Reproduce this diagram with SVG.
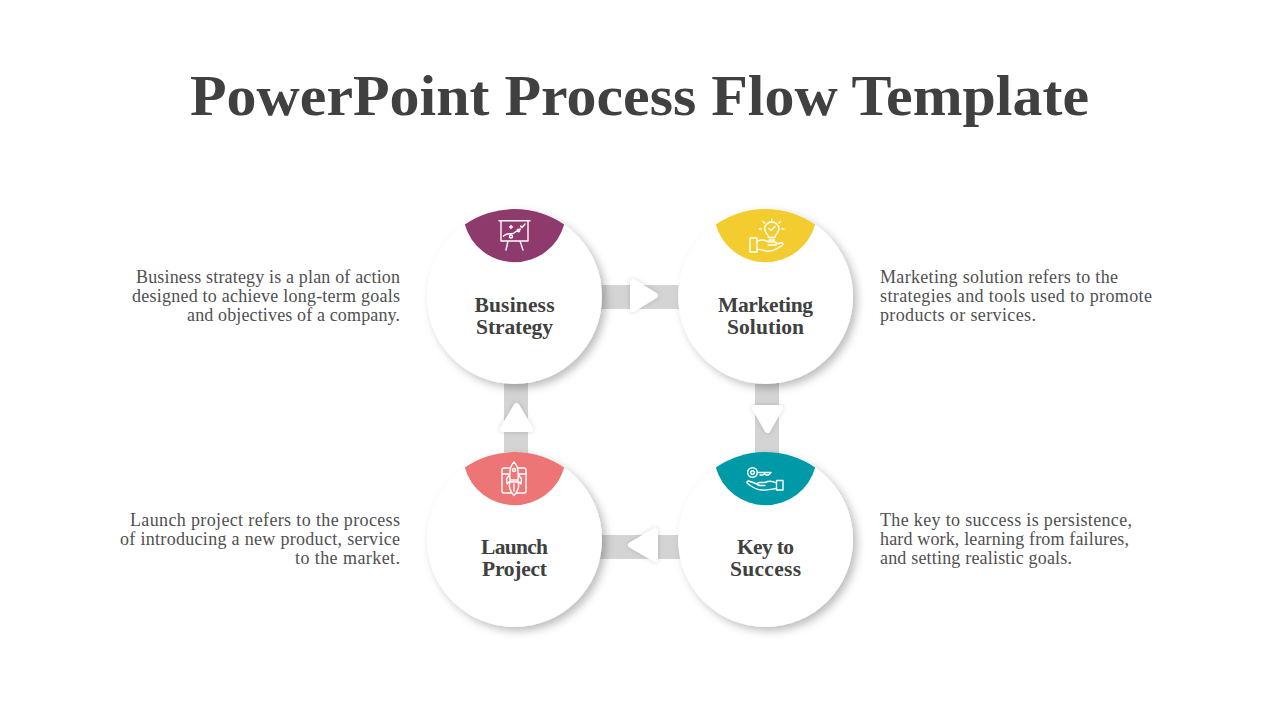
<svg xmlns="http://www.w3.org/2000/svg" width="1280" height="720" viewBox="0 0 1280 720">
<style>
text{font-family:"Liberation Serif","DejaVu Serif",serif}
.t{font-size:56px;font-weight:700;fill:#404040}
.l{font-size:21.5px;font-weight:700;fill:#404040;text-anchor:middle}
.d{font-size:18px;fill:#505050}
.e{text-anchor:end}
.c{fill:#fff;filter:url(#s)}
.a{fill:#fff;stroke:#fff;stroke-width:6;stroke-linejoin:round;filter:url(#sa)}
.b{fill:#d4d4d4}
.i{fill:none;stroke:#fff;stroke-width:1.4;stroke-linecap:round;stroke-linejoin:round}
</style>
<defs>
<filter id="s" x="-20%" y="-20%" width="150%" height="150%"><feDropShadow dx="4" dy="4" stdDeviation="4.5" flood-color="#000" flood-opacity="0.26"/></filter>
<filter id="sa" x="-40%" y="-40%" width="180%" height="180%"><feDropShadow dx="0" dy="0" stdDeviation="2.5" flood-color="#000" flood-opacity="0.17"/></filter>
<path id="cap" d="M-49.7-72A87.5 87.5 0 0 1 49.7-72A51.6 51.6 0 0 1-49.7-72Z"/>
</defs>
<text class="t" x="190" y="114.500" textLength="899" lengthAdjust="spacingAndGlyphs">PowerPoint Process Flow Template</text>
<g id="connectors">
<rect class="b" x="595" y="285" width="90" height="24"/>
<rect class="b" x="755" y="378" width="24" height="80"/>
<rect class="b" x="595" y="535" width="90" height="24"/>
<rect class="b" x="504" y="378" width="24" height="80"/>
</g>
<g id="node-business">
<circle class="c" cx="514.500" cy="296.500" r="87.500"/>
<use href="#cap" x="514.500" y="296.500" fill="#8e3a6c"/>
<g class="i"><path d="M499 220.700H530M501 221V241H528V221M508 241L506 250M520 241L523 250M503.500 236C508 232 511 235 514 233S518 230 520.500 229"/><circle cx="511" cy="236.500" r="1.500"/><circle cx="518.500" cy="230.500" r="1.200"/><path d="M520.500 226L522 227.500L525 224M509.500 227H512.500M511 225.500V228.500"/></g>
<text class="l"><tspan x="514.500" y="312" textLength="80">Business</tspan><tspan x="514.500" y="334" textLength="77">Strategy</tspan></text>
</g>
<g id="node-marketing">
<circle class="c" cx="765.500" cy="296.500" r="87.500"/>
<use href="#cap" x="765.500" y="296.500" fill="#f3cc30"/>
<g class="i"><path d="M768.500 237.500C768.500 234 764.500 233 764.500 228.500A7.300 7.300 0 0 1 779 228.500C779 233 775 234 775 237.500ZM769 240H774.500M769 228.500L771 230.500L775 226.500M771.700 219V221M763 221.500L764.500 223M780.500 221.500L779 223M761.500 229H759.500M782 229H784"/><rect x="750" y="238" width="7" height="14"/><path d="M757 241.500C761 238.500 765 240 769 242H775C777 242 777 245 775 245H768M775 244.500L780 243C783 242 784 244 782 245.500C777 249 770 252 766 251C762 250 760 249 757 249.500"/></g>
<text class="l"><tspan x="765.500" y="312" textLength="95">Marketing</tspan><tspan x="765.500" y="334" textLength="77">Solution</tspan></text>
</g>
<g id="node-launch">
<circle class="c" cx="514.500" cy="539.500" r="87.500"/>
<use href="#cap" x="514.500" y="539.500" fill="#ee7575"/>
<g class="i"><rect x="502" y="468" width="24" height="25" rx="2"/><path d="M502 474H526"/><path d="M514 462C518 466 519 471 518 480H510C509 471 510 466 514 462ZM510 474L506.500 479L507 484L510 481M518 474L521.500 479L521 484L518 481" fill="#ee7575"/><path d="M510 482C508 487 511 492 514 495.500C517 492 520 487 518 482ZM514 484V491" fill="#ee7575"/><circle cx="514" cy="470" r="1.500"/></g>
<text class="l"><tspan x="514.500" y="554" textLength="67">Launch</tspan><tspan x="514.500" y="576" textLength="65">Project</tspan></text>
</g>
<g id="node-key">
<circle class="c" cx="765.500" cy="539.500" r="87.500"/>
<use href="#cap" x="765.500" y="539.500" fill="#0099a8"/>
<g class="i"><circle cx="752.500" cy="472.500" r="4.800"/><circle cx="752.500" cy="472.500" r="1.800"/><path d="M757.300 472.500H771L768.500 475H766L764.500 473.800L763 475H760"/><rect x="776.500" y="480.500" width="6.500" height="9.500"/><path d="M776.500 483C772 480.500 768 481 765 482.500H759C757 482.500 757 485.500 759 485.500H765M759 485C755 483 751 481.500 748.500 481C746.500 481 746.500 483 748 484C752 487 757 490 762 490C767 490.500 772 489 776.500 488.500"/></g>
<text class="l"><tspan x="765.500" y="554" textLength="57">Key to</tspan><tspan x="765.500" y="576" textLength="71">Success</tspan></text>
</g>
<g id="arrows">
<path class="a" d="M633 282V309L655 295.500Z"/>
<path class="a" d="M755 408H780L767.500 430Z"/>
<path class="a" d="M655 531V559L631 545Z"/>
<path class="a" d="M503 429H530L516.500 406Z"/>
</g>
<g id="descriptions">
<text class="d e"><tspan x="400" y="283" textLength="264">Business strategy is a plan of action</tspan><tspan x="400" y="302" textLength="268">designed to achieve long-term goals</tspan><tspan x="400" y="321" textLength="213">and objectives of a company.</tspan></text>
<text class="d"><tspan x="880" y="283" textLength="238">Marketing solution refers to the</tspan><tspan x="880" y="302" textLength="272">strategies and tools used to promote</tspan><tspan x="880" y="321" textLength="156">products or services.</tspan></text>
<text class="d e"><tspan x="400" y="526" textLength="270">Launch project refers to the process</tspan><tspan x="400" y="545" textLength="280">of introducing a new product, service</tspan><tspan x="400" y="564" textLength="105">to the market.</tspan></text>
<text class="d"><tspan x="880" y="526" textLength="252">The key to success is persistence,</tspan><tspan x="880" y="545" textLength="249">hard work, learning from failures,</tspan><tspan x="880" y="564" textLength="192">and setting realistic goals.</tspan></text>
</g>
</svg>
